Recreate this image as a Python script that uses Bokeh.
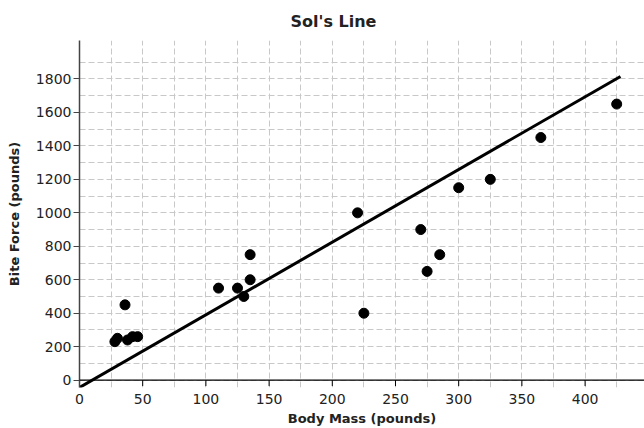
from bokeh.plotting import figure
from bokeh.models import Range1d, FixedTicker, Span
from bokeh.embed import file_html
from bokeh.resources import INLINE

# Data
body_mass = [28, 30, 36, 38, 42, 46, 110, 125, 130, 135, 135, 220, 225, 270, 275, 285, 300, 325, 365, 425]
bite_force = [230, 250, 450, 240, 260, 260, 550, 550, 500, 600, 750, 1000, 400, 900, 650, 750, 1150, 1200, 1450, 1650]

# Sol's line endpoints
sol_x = [0, 428]
sol_y = [-44, 1815]

x_major = [0, 50, 100, 150, 200, 250, 300, 350, 400]
x_minor = [25, 75, 125, 175, 225, 275, 325, 375, 425]
y_major = [0, 200, 400, 600, 800, 1000, 1200, 1400, 1600, 1800]
y_minor = [100, 300, 500, 700, 900, 1100, 1300, 1500, 1700, 1900]

FONT = "DejaVu Sans"
TICK_DROP = 35.5  # tick length below the zero line, in data units (~6px)

p = figure(width=644, height=428,
           x_range=Range1d(0, 447), y_range=Range1d(-44, 2030),
           output_backend="svg", toolbar_location=None,
           min_border_left=79, min_border_right=0,
           min_border_top=38, min_border_bottom=40,
           title="Sol's Line")
p.outline_line_color = None
p.background_fill_color = "white"

p.title.align = "left"
p.title.offset = 211
p.title.standoff = 19
p.title.text_font = FONT
p.title.text_font_size = "16px"
p.title.text_font_style = "bold"
p.title.text_color = "#222222"

p.xaxis.ticker = FixedTicker(ticks=x_major, minor_ticks=x_minor)
p.yaxis.ticker = FixedTicker(ticks=y_major, minor_ticks=y_minor)

for ax in (p.xaxis, p.yaxis):
    ax.major_label_text_font = FONT
    ax.major_label_text_font_size = "14px"
    ax.major_label_text_color = "#222222"
    ax.axis_label_text_font = FONT
    ax.axis_label_text_font_size = "13px"
    ax.axis_label_text_font_style = "bold"
    ax.axis_label_text_color = "#222222"
    ax.major_tick_in = 0
    ax.major_tick_out = 6
    ax.minor_tick_line_color = None
    ax.major_label_standoff = 2

p.xaxis.axis_label = "Body Mass (pounds)"
p.yaxis.axis_label = "Bite Force (pounds)"
p.xaxis.axis_label_standoff = 4
p.yaxis.axis_label_standoff = 11
# x axis drawn at y = 0 with a span and tick segments
p.xaxis.axis_line_color = None
p.xaxis.major_tick_line_color = None
p.xaxis.major_tick_out = 0
p.yaxis.axis_line_color = "#444444"
p.yaxis.major_tick_line_color = "#444444"
p.yaxis.axis_line_width = 1.5

for g in (p.xgrid, p.ygrid):
    g.grid_line_color = "#c8c8c8"
    g.grid_line_dash = "6 3"
    g.minor_grid_line_color = "#c8c8c8"
    g.minor_grid_line_dash = "6 3"

p.add_layout(Span(location=0, dimension="width", line_color="black", line_width=1.2))
p.segment(x0=x_major, y0=[0] * len(x_major), x1=x_major,
          y1=[-TICK_DROP] * len(x_major), line_color="black", line_width=1)

p.line(sol_x, sol_y, line_color="black", line_width=3)
p.scatter(body_mass, bite_force, size=10, fill_color="black", line_color="black")

open("out.html", "w").write(file_html(p, INLINE))
